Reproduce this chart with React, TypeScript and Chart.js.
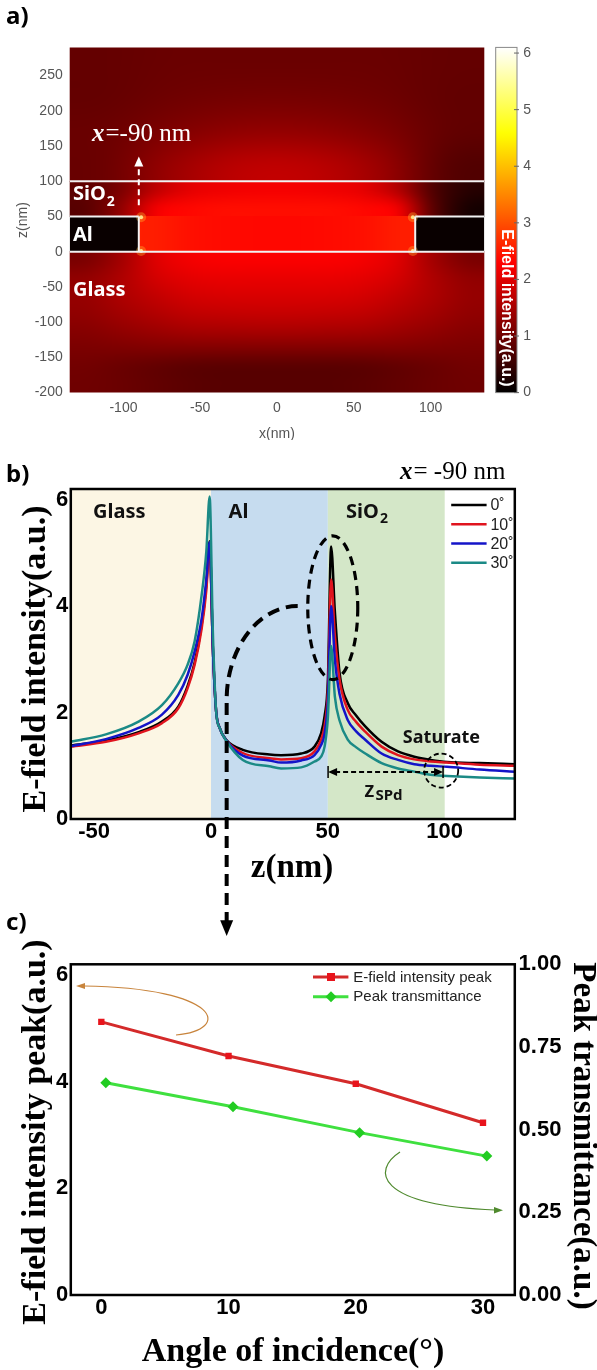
import React, { useEffect, useRef } from "react";
import { Chart, registerables } from "chart.js";

Chart.register(...registerables);

const SANS = '"Liberation Sans", Arial, sans-serif';
const SERIF = '"Liberation Serif", "Times New Roman", serif';
const KSANS = '"Noto Sans", "Open Sans", sans-serif';

// ================= Panel a : E-field map =================
const aXTicks = [-100, -50, 0, 50, 100];
const aZTicks = [-200, -150, -100, -50, 0, 50, 100, 150, 200, 250];
const cbTicks = [0, 1, 2, 3, 4, 5, 6];
// rows: top -> bottom, columns: left -> right (intensity, a.u.)
const airField = [
  [0.9, 0.95, 0.95, 0.95, 0.95, 0.9],
  [0.9, 1.0, 1.05, 1.05, 1.0, 0.88],
  [0.95, 1.15, 1.3, 1.3, 1.15, 0.88],
  [0.95, 1.4, 1.7, 1.7, 1.4, 0.75],
];
const sio2Field = [
  [0.85, 1.1, 1.7, 2.05, 2.15, 2.2, 2.2, 2.15, 2.05, 1.6, 0.7, 0.35],
  [0.8, 1.3, 2.2, 2.35, 2.4, 2.4, 2.4, 2.4, 2.35, 2.2, 0.8, 0.2],
];
const gapField = [
  [2.55, 2.42, 2.38, 2.35, 2.35, 2.38, 2.42, 2.55],
  [2.55, 2.42, 2.38, 2.35, 2.35, 2.38, 2.42, 2.55],
];
const glassField = [
  [1.1, 1.45, 2.0, 2.2, 2.25, 2.25, 2.25, 2.25, 2.2, 2.0, 1.45, 1.1],
  [1.3, 1.55, 1.9, 2.05, 2.1, 2.1, 2.1, 2.1, 2.05, 1.9, 1.55, 1.3],
  [1.35, 1.55, 1.75, 1.9, 1.95, 1.95, 1.95, 1.95, 1.9, 1.75, 1.55, 1.35],
  [1.3, 1.45, 1.6, 1.72, 1.76, 1.78, 1.78, 1.76, 1.72, 1.6, 1.45, 1.3],
  [1.2, 1.3, 1.4, 1.48, 1.5, 1.52, 1.52, 1.5, 1.48, 1.4, 1.3, 1.2],
  [1.1, 1.12, 1.15, 1.15, 1.15, 1.15, 1.15, 1.15, 1.15, 1.15, 1.12, 1.1],
  [1.02, 0.95, 0.88, 0.82, 0.8, 0.8, 0.8, 0.8, 0.82, 0.88, 0.95, 1.02],
  [1.0, 0.95, 0.88, 0.82, 0.78, 0.78, 0.78, 0.78, 0.82, 0.88, 0.95, 1.0],
];
const alField = 0.08;
const hotX = [-88.5, -88.5, 88.5, 88.5];
const hotZ = [1, 49, 1, 49];
// structure outline (x1, z1, x2, z2)
const interfaces = [
  [-135, 100, 135, 100],
  [-135, 0, 135, 0],
  [-135, 50, -90, 50],
  [90, 50, 135, 50],
  [-90, 0, -90, 50],
  [90, 0, 90, 50],
];

// ================= Panel b : profiles at x = -90 nm =================
const zPos = [-60, -45, -31, -21, -14, -10, -7, -4, -2, -0.6, 0.8, 2.2, 3.7, 6.5, 13.6, 25, 30, 38.6, 44.3, 47.1, 48.6, 50, 51.4, 53, 55, 58.5, 62, 66, 73, 80, 87, 94, 101, 115, 130];
const field0 = [1.38, 1.47, 1.63, 1.83, 2.11, 2.5, 2.94, 3.65, 4.4, 5.22, 3.2, 2.02, 1.71, 1.49, 1.3, 1.21, 1.2, 1.23, 1.36, 1.61, 1.93, 2.6, 5.12, 3.9, 2.75, 2.18, 1.95, 1.74, 1.45, 1.27, 1.17, 1.11, 1.07, 1.05, 1.03];
const field10 = [1.36, 1.45, 1.61, 1.8, 2.08, 2.46, 2.9, 3.58, 4.3, 5.15, 3.2, 2.02, 1.71, 1.48, 1.24, 1.14, 1.12, 1.14, 1.27, 1.49, 1.75, 2.4, 4.5, 3.45, 2.62, 2.05, 1.83, 1.64, 1.36, 1.2, 1.12, 1.08, 1.06, 1.02, 1.0];
const field20 = [1.37, 1.5, 1.71, 1.96, 2.33, 2.71, 3.15, 3.77, 4.5, 5.2, 3.2, 2.02, 1.71, 1.48, 1.19, 1.1, 1.06, 1.1, 1.2, 1.39, 1.6, 2.2, 4.0, 3.0, 2.35, 1.86, 1.65, 1.49, 1.23, 1.11, 1.03, 1.0, 0.98, 0.93, 0.89];
const field30 = [1.45, 1.59, 1.83, 2.14, 2.55, 2.9, 3.34, 4.21, 5.03, 6.06, 3.5, 2.02, 1.71, 1.47, 1.11, 0.99, 0.95, 0.97, 1.08, 1.17, 1.36, 1.9, 3.25, 2.3, 1.85, 1.49, 1.35, 1.23, 1.05, 0.95, 0.89, 0.83, 0.81, 0.78, 0.76];
const bAngleLabels = ["0˚", "10˚", "20˚", "30˚"];
const bColors = ["#000000", "#e0141e", "#1414c8", "#1b8a86"];
const bXTicks = [-50, 0, 50, 100];
const bYTicks = [0, 2, 4, 6];
const regionEdges = [-60, 0, 50, 100];
const regionColors = ["#fcf6e4", "#c6dcef", "#d4e7c8"];

// ================= Panel c : peak vs angle =================
const angles = [0, 10, 20, 30];
const peakIntensity = [5.12, 4.48, 3.96, 3.23];
const transAngles = [0.35, 10.35, 20.3, 30.3];
const peakTransmittance = [0.642, 0.569, 0.491, 0.42];
const cXTicks = [0, 10, 20, 30];
const cYTicks = [0, 2, 4, 6];
const cY2Ticks = [0, 0.25, 0.5, 0.75, 1.0];

// ---------------- helpers ----------------
function hot(v: number): [number, number, number] {
  const t = Math.max(0, Math.min(1, v / 6.1));
  const r = Math.min(1, t / 0.375);
  const g = Math.max(0, Math.min(1, (t - 0.375) / 0.375));
  const b = Math.max(0, Math.min(1, (t - 0.75) / 0.25));
  return [r * 255, g * 255, b * 255];
}
function hotCss(v: number) {
  const [r, g, b] = hot(v);
  return `rgb(${Math.round(r)},${Math.round(g)},${Math.round(b)})`;
}
function drawLayer(ctx: any, xs: any, ys: any, grid: number[][], x0: number, x1: number, z0: number, z1: number) {
  const rows = grid.length;
  const cols = grid[0].length;
  const off = document.createElement("canvas");
  off.width = cols + 2;
  off.height = rows + 2;
  const octx = off.getContext("2d") as CanvasRenderingContext2D;
  const img = octx.createImageData(cols + 2, rows + 2);
  for (let j = 0; j < rows + 2; j++) {
    for (let i = 0; i < cols + 2; i++) {
      const jj = Math.max(0, Math.min(rows - 1, j - 1));
      const ii = Math.max(0, Math.min(cols - 1, i - 1));
      const [r, g, b] = hot(grid[jj][ii]);
      const k = (j * (cols + 2) + i) * 4;
      img.data[k] = r;
      img.data[k + 1] = g;
      img.data[k + 2] = b;
      img.data[k + 3] = 255;
    }
  }
  octx.putImageData(img, 0, 0);
  const px0 = Math.floor(xs.getPixelForValue(x0));
  const px1 = Math.ceil(xs.getPixelForValue(x1));
  const py0 = Math.floor(ys.getPixelForValue(z1));
  const py1 = Math.ceil(ys.getPixelForValue(z0));
  ctx.imageSmoothingEnabled = true;
  ctx.imageSmoothingQuality = "high";
  ctx.drawImage(off, 1, 1, cols, rows, px0, py0, px1 - px0, py1 - py0);
}
function subText(ctx: any, base: string, sub: string, x: number, y: number, size: number, weight: string) {
  ctx.font = `${weight} ${size}px ${KSANS}`;
  ctx.fillText(base, x, y);
  const w = ctx.measureText(base).width;
  ctx.font = `${weight} ${Math.round(size * 0.72)}px ${KSANS}`;
  ctx.fillText(sub, x + w + 1, y + size * 0.28);
}
function xEq(ctx: any, x: number, y: number, size: number, color: string, rest: string) {
  ctx.fillStyle = color;
  ctx.textAlign = "left";
  ctx.textBaseline = "alphabetic";
  ctx.font = `italic bold ${size}px ${SERIF}`;
  ctx.fillText("x", x, y);
  const w = ctx.measureText("x").width;
  ctx.font = `${size}px ${SERIF}`;
  ctx.fillText(rest, x + w + 1, y);
}
function rotText(ctx: any, text: string, x: number, y: number, angle: number, font: string, color: string) {
  ctx.save();
  ctx.translate(x, y);
  ctx.rotate(angle);
  ctx.font = font;
  ctx.fillStyle = color;
  ctx.textAlign = "center";
  ctx.textBaseline = "middle";
  ctx.fillText(text, 0, 0);
  ctx.restore();
}
function panelLabel(ctx: any, t: string, x: number, y: number) {
  ctx.font = `bold 24px ${KSANS}`;
  ctx.fillStyle = "#000";
  ctx.textAlign = "left";
  ctx.textBaseline = "middle";
  ctx.fillText(t, x, y);
}
const setTicks = (vals: number[]) => (s: any) => {
  s.ticks = vals.map((v) => ({ value: v }));
};

// ---------------- Panel a chart ----------------
function makeA(canvas: HTMLCanvasElement) {
  const plugin = {
    id: "panelA",
    beforeDatasetsDraw(chart: any) {
      const { ctx, chartArea: ca, scales } = chart;
      const xs = scales.x;
      const ys = scales.y;
      ctx.save();
      ctx.beginPath();
      ctx.rect(ca.left, ca.top, ca.right - ca.left, ca.bottom - ca.top);
      ctx.clip();
      drawLayer(ctx, xs, ys, glassField, -135, 135, -200, 0);
      drawLayer(ctx, xs, ys, airField, -135, 135, 100, 290);
      drawLayer(ctx, xs, ys, sio2Field, -135, 135, 50, 100);
      drawLayer(ctx, xs, ys, gapField, -90, 90, 0, 50);
      ctx.fillStyle = hotCss(alField);
      const zt = ys.getPixelForValue(50);
      const zb = ys.getPixelForValue(0);
      ctx.fillRect(xs.getPixelForValue(-135), zt, xs.getPixelForValue(-90) - xs.getPixelForValue(-135), zb - zt);
      ctx.fillRect(xs.getPixelForValue(90), zt, xs.getPixelForValue(135) - xs.getPixelForValue(90), zb - zt);
      ctx.restore();
    },
    afterDatasetsDraw(chart: any) {
      const { ctx, chartArea: ca, scales } = chart;
      const xs = scales.x;
      const ys = scales.y;
      const cb = scales.cb;
      ctx.save();
      // structure outline
      ctx.strokeStyle = "#f2f2f2";
      ctx.lineWidth = 2;
      for (const [x1, z1, x2, z2] of interfaces) {
        ctx.beginPath();
        ctx.moveTo(xs.getPixelForValue(x1), ys.getPixelForValue(z1));
        ctx.lineTo(xs.getPixelForValue(x2), ys.getPixelForValue(z2));
        ctx.stroke();
      }
      // dashed arrow at x = -90
      const ax = xs.getPixelForValue(-90);
      ctx.setLineDash([6, 4]);
      ctx.lineWidth = 2;
      ctx.strokeStyle = "#fff";
      ctx.beginPath();
      ctx.moveTo(ax, ys.getPixelForValue(66));
      ctx.lineTo(ax, ys.getPixelForValue(124));
      ctx.stroke();
      ctx.setLineDash([]);
      ctx.fillStyle = "#fff";
      const tip = ys.getPixelForValue(135);
      ctx.beginPath();
      ctx.moveTo(ax, tip);
      ctx.lineTo(ax - 4.5, tip + 10);
      ctx.lineTo(ax + 4.5, tip + 10);
      ctx.closePath();
      ctx.fill();
      // texts
      xEq(ctx, 92, 141, 25, "#fff", "=-90 nm");
      ctx.fillStyle = "#fff";
      ctx.textAlign = "left";
      ctx.textBaseline = "alphabetic";
      subText(ctx, "SiO", "2", 73, 200, 20, "bold");
      ctx.font = `bold 20px ${KSANS}`;
      ctx.fillText("Al", 73, 241);
      ctx.fillText("Glass", 73, 296);
      // colorbar
      const cL = ca.right + 11.4;
      const cW = 21.3;
      const cTop = cb.getPixelForValue(6.1);
      const cBot = cb.getPixelForValue(0);
      const grad = ctx.createLinearGradient(0, cBot, 0, cTop);
      for (let i = 0; i <= 61; i++) grad.addColorStop(i / 61, hotCss(i / 10));
      ctx.fillStyle = grad;
      ctx.fillRect(cL, cTop, cW, cBot - cTop);
      ctx.strokeStyle = "#888";
      ctx.lineWidth = 1;
      ctx.strokeRect(cL, cTop, cW, cBot - cTop);
      ctx.strokeStyle = "#666";
      for (const v of cbTicks) {
        const py = cb.getPixelForValue(v);
        ctx.beginPath();
        ctx.moveTo(cL + cW - 3, py);
        ctx.lineTo(cL + cW + 2, py);
        ctx.stroke();
      }
      rotText(ctx, "E-field intensity(a.u.)", cL + cW / 2, 308, Math.PI / 2, `bold 16px ${SANS}`, "#fff");
      // axis titles
      ctx.fillStyle = "#555";
      ctx.font = `14px ${SANS}`;
      ctx.textAlign = "center";
      ctx.textBaseline = "middle";
      ctx.fillText("x(nm)", (ca.left + ca.right) / 2, 434);
      rotText(ctx, "z(nm)", 23.5, (ca.top + ca.bottom) / 2, -Math.PI / 2, `14px ${SANS}`, "#555");
      panelLabel(ctx, "a)", 6, 17);
      ctx.restore();
    },
  };
  const pts = hotX.map((x, i) => ({ x, y: hotZ[i] }));
  return new Chart(canvas, {
    type: "scatter",
    data: {
      datasets: [
        { data: pts, pointRadius: 5, pointBackgroundColor: "rgba(255,170,40,0.4)", pointBorderWidth: 0, order: 1 },
        { data: pts, pointRadius: 2, pointBackgroundColor: "rgba(255,235,140,0.95)", pointBorderWidth: 0, order: 0 },
      ],
    },
    options: {
      responsive: false,
      animation: false,
      devicePixelRatio: 1,
      events: [],
      layout: { padding: { top: 32.3, left: 0, right: 0, bottom: 0 } },
      plugins: { legend: { display: false }, tooltip: { enabled: false } },
      scales: {
        x: {
          type: "linear", min: -135, max: 135,
          grid: { display: false, drawTicks: false }, border: { display: false },
          ticks: { color: "#555", font: { family: SANS, size: 14 }, padding: 7, autoSkip: false, maxRotation: 0 },
          afterBuildTicks: setTicks(aXTicks),
          afterFit: (s: any) => { s.height = 42.7; },
        },
        y: {
          type: "linear", min: -200, max: 290,
          grid: { display: false, drawTicks: false }, border: { display: false },
          ticks: { color: "#555", font: { family: SANS, size: 14 }, padding: 7, autoSkip: false },
          afterBuildTicks: setTicks(aZTicks),
          afterFit: (s: any) => { s.width = 69.7; },
        },
        cb: {
          type: "linear", axis: "y", position: "right", min: 0, max: 6.1,
          grid: { display: false, drawTicks: false }, border: { display: false },
          ticks: { color: "#555", font: { family: SANS, size: 14 }, padding: 39, autoSkip: false },
          afterBuildTicks: setTicks(cbTicks),
          afterFit: (s: any) => { s.width = 112.7; },
        },
      },
    } as any,
    plugins: [plugin],
  });
}

// ---------------- Panel b chart ----------------
const OFF_B = 440;
function makeB(canvas: HTMLCanvasElement) {
  const plugin = {
    id: "panelB",
    beforeDatasetsDraw(chart: any) {
      const { ctx, chartArea: ca, scales } = chart;
      const xs = scales.x;
      ctx.save();
      for (let i = 0; i < regionColors.length; i++) {
        const a = xs.getPixelForValue(regionEdges[i]);
        const b = xs.getPixelForValue(regionEdges[i + 1]);
        ctx.fillStyle = regionColors[i];
        ctx.fillRect(a, ca.top, b - a, ca.bottom - ca.top);
      }
      ctx.restore();
    },
    afterDatasetsDraw(chart: any) {
      const { ctx, chartArea: ca, scales } = chart;
      const xs = scales.x;
      const ys = scales.y;
      const X = (v: number) => xs.getPixelForValue(v);
      const Y = (v: number) => ys.getPixelForValue(v);
      ctx.save();
      // frame
      ctx.lineWidth = 2.5;
      ctx.strokeStyle = "#000";
      ctx.strokeRect(ca.left, ca.top, ca.right - ca.left, ca.bottom - ca.top);
      // region labels
      ctx.fillStyle = "#111";
      ctx.textAlign = "left";
      ctx.textBaseline = "alphabetic";
      ctx.font = `bold 20px ${KSANS}`;
      ctx.fillText("Glass", X(-50.5), Y(5.66));
      ctx.fillText("Al", X(7.5), Y(5.66));
      subText(ctx, "SiO", "2", X(57.8), Y(5.66), 20, "bold");
      // legend
      const rowsY = [16, 35.3, 54.5, 73.7];
      for (let i = 0; i < bColors.length; i++) {
        const yy = ca.top + rowsY[i];
        ctx.strokeStyle = bColors[i];
        ctx.lineWidth = 2.5;
        ctx.beginPath();
        ctx.moveTo(ca.right - 63.6, yy);
        ctx.lineTo(ca.right - 28.2, yy);
        ctx.stroke();
        ctx.fillStyle = "#222";
        ctx.font = `16px ${SANS}`;
        ctx.textBaseline = "middle";
        ctx.fillText(bAngleLabels[i], ca.right - 24.4, yy + 1);
      }
      // dashed ellipse around SiO2 peak
      ctx.strokeStyle = "#000";
      ctx.setLineDash([9, 6]);
      ctx.lineWidth = 3.2;
      ctx.beginPath();
      ctx.ellipse(X(52.1), Y(3.97), X(62.8) - X(52.1), Y(2.62) - Y(3.97), 0, 0, Math.PI * 2);
      ctx.stroke();
      // big dashed arc leading to panel c
      ctx.setLineDash([12, 7]);
      ctx.lineWidth = 4;
      const cx = X(37.1);
      const cy = Y(2.24);
      const rx = cx - X(6.7);
      const ry = Y(2.24) - Y(4.0);
      ctx.beginPath();
      ctx.ellipse(cx, cy, rx, ry, 0, -Math.PI / 2, Math.PI, true);
      ctx.lineTo(X(6.7), Y(-1.92));
      ctx.stroke();
      ctx.setLineDash([]);
      ctx.fillStyle = "#000";
      ctx.beginPath();
      ctx.moveTo(X(6.7), Y(-2.2));
      ctx.lineTo(X(6.7) - 6.5, Y(-1.9));
      ctx.lineTo(X(6.7) + 6.5, Y(-1.9));
      ctx.closePath();
      ctx.fill();
      // z_SPd double arrow
      const ay = Y(0.885);
      const a0 = X(50.1);
      const a1 = X(99.3);
      ctx.lineWidth = 2;
      ctx.setLineDash([5, 3]);
      ctx.beginPath();
      ctx.moveTo(a0 + 7, ay);
      ctx.lineTo(a1 - 7, ay);
      ctx.stroke();
      ctx.setLineDash([]);
      ctx.beginPath();
      ctx.moveTo(a0, ay);
      ctx.lineTo(a0 + 9, ay - 4);
      ctx.lineTo(a0 + 9, ay + 4);
      ctx.closePath();
      ctx.moveTo(a1, ay);
      ctx.lineTo(a1 - 9, ay - 4);
      ctx.lineTo(a1 - 9, ay + 4);
      ctx.closePath();
      ctx.fill();
      ctx.lineWidth = 1.5;
      ctx.beginPath();
      ctx.moveTo(a0, ay - 6);
      ctx.lineTo(a0, ay + 6);
      ctx.moveTo(a1, ay - 6);
      ctx.lineTo(a1, ay + 6);
      ctx.stroke();
      // saturate circle
      ctx.lineWidth = 1.8;
      ctx.setLineDash([5, 3]);
      ctx.beginPath();
      ctx.arc(X(98.5), Y(0.91), 17, 0, Math.PI * 2);
      ctx.stroke();
      ctx.setLineDash([]);
      ctx.fillStyle = "#111";
      ctx.textBaseline = "alphabetic";
      ctx.font = `bold 18px ${KSANS}`;
      ctx.fillText("Saturate", X(82.1), Y(1.42));
      ctx.font = `600 21px ${KSANS}`;
      ctx.fillText("z", X(65.6), Y(0.42));
      const zw = ctx.measureText("z").width;
      ctx.font = `bold 15px ${KSANS}`;
      ctx.fillText("SPd", X(65.6) + zw + 1, Y(0.36));
      // page-coordinate texts
      ctx.translate(0, -OFF_B);
      xEq(ctx, 400, 479, 25, "#000", "= -90 nm");
      panelLabel(ctx, "b)", 6, 475);
      rotText(ctx, "E-field intensity(a.u.)", 36, 659, -Math.PI / 2, `bold 34px ${SERIF}`, "#000");
      rotText(ctx, "z(nm)", 292, 868, 0, `bold 33px ${SERIF}`, "#000");
      ctx.restore();
    },
  };
  const series = [field0, field10, field20, field30];
  return new Chart(canvas, {
    type: "scatter",
    data: {
      datasets: series.map((s, i) => ({
        label: bAngleLabels[i],
        data: zPos.map((z, k) => ({ x: z, y: s[k] })),
        showLine: true,
        borderColor: bColors[i],
        borderWidth: 2.5,
        pointRadius: 0,
        cubicInterpolationMode: "monotone",
        order: 3 - i,
      })),
    },
    options: {
      responsive: false,
      animation: false,
      devicePixelRatio: 1,
      events: [],
      layout: { padding: { top: 49, left: 0, right: 82.2, bottom: 0 } },
      plugins: { legend: { display: false }, tooltip: { enabled: false } },
      scales: {
        x: {
          type: "linear", min: -60, max: 130,
          grid: { display: false, drawTicks: false }, border: { display: false },
          ticks: { color: "#000", font: { family: SANS, size: 22, weight: "bold" }, padding: 0, autoSkip: false, maxRotation: 0 },
          afterBuildTicks: setTicks(bXTicks),
          afterFit: (s: any) => { s.height = 121; },
        },
        y: {
          type: "linear", min: 0, max: 6.2,
          grid: { display: false, drawTicks: false }, border: { display: false },
          ticks: { color: "#000", font: { family: SANS, size: 22, weight: "bold" }, padding: 2.5, autoSkip: false },
          afterBuildTicks: setTicks(bYTicks),
          afterFit: (s: any) => { s.width = 70.8; },
        },
      },
    } as any,
    plugins: [plugin],
  });
}

// ---------------- Panel c chart ----------------
const OFF_C = 900;
function makeC(canvas: HTMLCanvasElement) {
  const plugin = {
    id: "panelC",
    afterDatasetsDraw(chart: any) {
      const { ctx, chartArea: ca } = chart;
      ctx.save();
      ctx.lineWidth = 2.5;
      ctx.strokeStyle = "#000";
      ctx.strokeRect(ca.left, ca.top, ca.right - ca.left, ca.bottom - ca.top);
      ctx.translate(0, -OFF_C);
      // legend
      const items = [
        { t: "E-field intensity peak", c: "#d42a2a", m: "#e8141c", rect: true, y: 977 },
        { t: "Peak transmittance", c: "#3fe03f", m: "#22cc22", rect: false, y: 996.7 },
      ];
      for (const it of items) {
        ctx.strokeStyle = it.c;
        ctx.lineWidth = 3;
        ctx.beginPath();
        ctx.moveTo(313, it.y);
        ctx.lineTo(348.4, it.y);
        ctx.stroke();
        ctx.fillStyle = it.m;
        ctx.beginPath();
        if (it.rect) {
          ctx.rect(331 - 4, it.y - 4, 8, 8);
        } else {
          ctx.moveTo(331, it.y - 5.5);
          ctx.lineTo(336.5, it.y);
          ctx.lineTo(331, it.y + 5.5);
          ctx.lineTo(325.5, it.y);
          ctx.closePath();
        }
        ctx.fill();
        ctx.fillStyle = "#222";
        ctx.font = `15px ${SANS}`;
        ctx.textAlign = "left";
        ctx.textBaseline = "middle";
        ctx.fillText(it.t, 353.3, it.y + 0.5);
      }
      // curved pointer arrows
      ctx.lineWidth = 1.2;
      ctx.strokeStyle = "#c8843c";
      ctx.fillStyle = "#c8843c";
      ctx.beginPath();
      ctx.moveTo(176, 1035);
      ctx.bezierCurveTo(232, 1030, 222, 988, 84, 986);
      ctx.stroke();
      ctx.beginPath();
      ctx.moveTo(76, 986);
      ctx.lineTo(85, 983);
      ctx.lineTo(85, 989);
      ctx.closePath();
      ctx.fill();
      ctx.strokeStyle = "#4f8a2e";
      ctx.fillStyle = "#4f8a2e";
      ctx.beginPath();
      ctx.moveTo(400, 1152);
      ctx.bezierCurveTo(372, 1170, 375, 1205, 495, 1210);
      ctx.stroke();
      ctx.beginPath();
      ctx.moveTo(503, 1210.3);
      ctx.lineTo(494, 1207);
      ctx.lineTo(494, 1213.4);
      ctx.closePath();
      ctx.fill();
      // titles
      panelLabel(ctx, "c)", 6, 923);
      rotText(ctx, "E-field intensity peak(a.u.)", 36, 1132, -Math.PI / 2, `bold 34px ${SERIF}`, "#000");
      rotText(ctx, "Peak transmittance(a.u.)", 582.5, 1136, Math.PI / 2, `bold 33px ${SERIF}`, "#000");
      rotText(ctx, "Angle of incidence(°)", 293, 1352, 0, `bold 34px ${SERIF}`, "#000");
      ctx.restore();
    },
  };
  return new Chart(canvas, {
    type: "scatter",
    data: {
      datasets: [
        {
          label: "E-field intensity peak",
          data: angles.map((a, i) => ({ x: a, y: peakIntensity[i] })),
          showLine: true, borderColor: "#d42a2a", borderWidth: 3,
          pointStyle: "rect", pointRadius: 4.5, pointBackgroundColor: "#e8141c", pointBorderWidth: 0,
          yAxisID: "y",
        },
        {
          label: "Peak transmittance",
          data: transAngles.map((a, i) => ({ x: a, y: peakTransmittance[i] })),
          showLine: true, borderColor: "#3fe03f", borderWidth: 3,
          pointStyle: "rectRot", pointRadius: 5.5, pointBackgroundColor: "#22cc22", pointBorderWidth: 0,
          yAxisID: "y2",
        },
      ],
    },
    options: {
      responsive: false,
      animation: false,
      devicePixelRatio: 1,
      events: [],
      layout: { padding: { top: 64.3, left: 0, right: 0, bottom: 0 } },
      plugins: { legend: { display: false }, tooltip: { enabled: false } },
      scales: {
        x: {
          type: "linear", min: -2.4, max: 32.5,
          grid: { display: false, drawTicks: false }, border: { display: false },
          ticks: { color: "#000", font: { family: SANS, size: 22, weight: "bold" }, padding: 0, autoSkip: false, maxRotation: 0 },
          afterBuildTicks: setTicks(cXTicks),
          afterFit: (s: any) => { s.height = 75; },
        },
        y: {
          type: "linear", position: "left", min: 0, max: 6.2,
          grid: { display: false, drawTicks: false }, border: { display: false },
          ticks: { color: "#000", font: { family: SANS, size: 22, weight: "bold" }, padding: 2.5, autoSkip: false },
          afterBuildTicks: setTicks(cYTicks),
          afterFit: (s: any) => { s.width = 70.8; },
        },
        y2: {
          type: "linear", position: "right", min: 0, max: 1,
          grid: { display: false, drawTicks: false }, border: { display: false },
          ticks: { color: "#000", font: { family: SANS, size: 22, weight: "bold" }, padding: 3.8, autoSkip: false, callback: (v: any) => Number(v).toFixed(2) },
          afterBuildTicks: setTicks(cY2Ticks),
          afterFit: (s: any) => { s.width = 82.2; },
        },
      },
    } as any,
    plugins: [plugin],
  });
}

export default function App() {
  const aRef = useRef<HTMLCanvasElement>(null);
  const bRef = useRef<HTMLCanvasElement>(null);
  const cRef = useRef<HTMLCanvasElement>(null);
  useEffect(() => {
    document.body.style.margin = "0";
    const charts = [makeA(aRef.current!), makeB(bRef.current!), makeC(cRef.current!)];
    return () => charts.forEach((c) => c.destroy());
  }, []);
  const cs = (top: number, h: number): React.CSSProperties => ({
    position: "absolute", left: 0, top, width: 597, height: h, display: "block",
  });
  return (
    <div style={{ position: "absolute", left: 0, top: 0, width: 597, height: 1370, background: "#fff", overflow: "hidden" }}>
      <canvas ref={aRef} width={597} height={440} style={cs(0, 440)} />
      <canvas ref={bRef} width={597} height={500} style={cs(440, 500)} />
      <canvas ref={cRef} width={597} height={470} style={cs(900, 470)} />
    </div>
  );
}
